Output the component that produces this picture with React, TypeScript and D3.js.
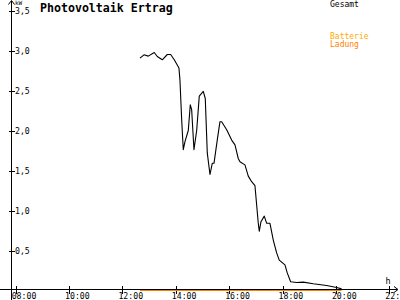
import React from "react";
import * as d3 from "d3";

const W = 400;
const H = 300;

// Time in decimal hours, power in kW
const pvTimes = [12.657, 12.807, 12.968, 13.193, 13.305, 13.493, 13.68, 13.807, 13.942, 14.118, 14.155, 14.22, 14.28, 14.343, 14.467, 14.542, 14.594, 14.68, 14.782, 14.879, 15.029, 15.104, 15.179, 15.28, 15.366, 15.43, 15.553, 15.654, 15.718, 15.906, 16.093, 16.217, 16.34, 16.404, 16.591, 16.715, 16.842, 16.966, 17.09, 17.127, 17.191, 17.315, 17.404, 17.528, 17.652, 17.779, 17.876, 18.09, 18.176, 18.303, 18.528, 18.776, 19.15, 19.652, 20.027, 20.214];
const pvValues = [2.905, 2.946, 2.93, 2.975, 2.925, 2.884, 2.95, 2.95, 2.884, 2.78, 2.63, 2.13, 1.76, 1.86, 2.0, 2.32, 2.26, 1.76, 2.0, 2.43, 2.49, 2.4, 1.72, 1.45, 1.59, 1.59, 1.88, 2.11, 2.11, 2.01, 1.88, 1.82, 1.65, 1.61, 1.57, 1.43, 1.36, 1.31, 0.84, 0.74, 0.86, 0.93, 0.84, 0.84, 0.63, 0.47, 0.38, 0.32, 0.22, 0.11, 0.1, 0.105, 0.084, 0.063, 0.038, 0.02];

const batteryTimes = [12.657, 20.214];
const batteryValues = [0, 0];

const xTicks = [8, 10, 12, 14, 16, 18, 20, 22];
const xTickLabels = ["08:00", "10:00", "12:00", "14:00", "16:00", "18:00", "20:00", "22:"];
const yTicks = [0.5, 1.0, 1.5, 2.0, 2.5, 3.0, 3.5];
const yTickLabels = ["0,5", "1,0", "1,5", "2,0", "2,5", "3,0", "3,5"];

const legendLabels = ["Gesamt", "Batterie", "Ladung"];
const legendColors = ["#000000", "#ffaa00", "#ff8000"];

const FONT = "'DejaVu Sans Mono', monospace";

export default function App() {
  const x = d3.scaleLinear().domain([8, 22]).range([15.7, 389.3]);
  const y = d3.scaleLinear().domain([0, 3.5]).range([290.5, 10.5]);
  const line = d3
    .line<[number, number]>()
    .x((d) => x(d[0]))
    .y((d) => y(d[1]));
  const pvData: [number, number][] = pvTimes.map((t, i) => [t, pvValues[i]]);
  const batData: [number, number][] = batteryTimes.map((t, i) => [t, batteryValues[i]]);
  const axisX = 11.5;
  const axisY = y(0) - 1;

  return (
    <svg
      width={W}
      height={H}
      style={{ position: "absolute", left: 0, top: 0, background: "#ffffff" }}
    >
      <rect width={W} height={H} fill="#ffffff" />
      {/* axes */}
      <g stroke="#000" strokeWidth={1} shapeRendering="crispEdges" fill="none">
        <line x1={axisX} y1={1} x2={axisX} y2={H} />
        <line x1={0} y1={axisY} x2={397} y2={axisY} />
        {xTicks.map((t) => (
          <line key={t} x1={Math.round(x(t)) + 0.5} x2={Math.round(x(t)) + 0.5} y1={axisY - 4} y2={axisY + 4} />
        ))}
        {yTicks.map((t) => (
          <line key={t} x1={axisX - 3} x2={axisX + 3} y1={Math.round(y(t)) + 0.5} y2={Math.round(y(t)) + 0.5} />
        ))}
      </g>
      {/* arrows */}
      <path d={`M${axisX - 3},${4.5} L${axisX},${0.5} L${axisX + 3},${4.5}`} stroke="#000" fill="none" />
      <path d={`M${394},${axisY - 3} L${398},${axisY} L${394},${axisY + 3}`} stroke="#000" fill="none" />

      {/* series */}
      <path d={line(batData) || ""} stroke="#ff8000" strokeWidth={1.2} fill="none" />
      <path d={line(pvData) || ""} stroke="#000" strokeWidth={1.1} fill="none" strokeLinejoin="round" />

      {/* tick labels */}
      <g fontFamily={FONT} fontSize={8.2} fill="#000">
        {xTicks.map((t, i) => (
          <text key={t} x={x(t) - 4} y={299}>
            {xTickLabels[i]}
          </text>
        ))}
        {yTicks.map((t, i) => (
          <text key={t} x={15} y={y(t) + 3.2}>
            {yTickLabels[i]}
          </text>
        ))}
      </g>
      <text x={15} y={5} fontFamily={FONT} fontSize={6} fill="#000">kW</text>
      <text x={385.5} y={284} fontFamily={FONT} fontSize={8.5} fill="#000">h</text>

      {/* title */}
      <text x={40} y={12} fontFamily={FONT} fontSize={11.6} fontWeight="bold" fill="#000">
        Photovoltaik Ertrag
      </text>

      {/* legend */}
      <g fontFamily={FONT} fontSize={8}>
        <text x={330} y={7} fill={legendColors[0]}>{legendLabels[0]}</text>
        <text x={330} y={38.5} fill={legendColors[1]}>{legendLabels[1]}</text>
        <text x={330} y={47} fill={legendColors[2]}>{legendLabels[2]}</text>
      </g>
    </svg>
  );
}
